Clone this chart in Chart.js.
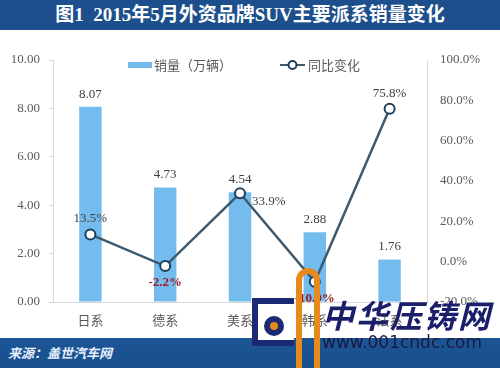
<!DOCTYPE html>
<html>
<head>
<meta charset="utf-8">
<script src="https://cdn.jsdelivr.net/npm/chart.js@4.4.1/dist/chart.umd.min.js"></script>
<style>
  body { margin: 0; width: 500px; height: 368px; overflow: hidden; background: #fff; position: relative; font-family: "Noto Sans CJK SC", sans-serif; }
  #title { position: absolute; left: 0; top: 0; width: 500px; height: 30px; background: #1d4f8c; color: #fff;
    font: bold 19px "Liberation Serif", "Noto Sans CJK SC", serif; line-height: 30px; text-align: center; }
  #wrap { position: absolute; left: 0; top: 30px; width: 500px; height: 308px; }
  #foot { position: absolute; left: 0; top: 338px; width: 500px; height: 30px; background: linear-gradient(#1c5595, #19508e);
    color: #e8f0ff; font: italic bold 13px "Noto Sans CJK SC", sans-serif; line-height: 30px; padding-left: 8px; box-sizing: border-box; }
  .wm { position: absolute; color: #1b1f6b; white-space: nowrap; }
  #logoA { position: absolute; left: 252px; top: 298px; width: 36px; height: 36px; border: 6px solid #1b2a72; border-right: none; background: #fff; }
  #logoA div { position: absolute; left: 6px; top: 12px; width: 20px; height: 20px; border-radius: 50%; background: #1b2a72; }
  #logoA span { position: absolute; left: 12px; top: 18px; width: 8px; height: 8px; border-radius: 50%; background: #e8891b; }
  #logoB { position: absolute; left: 296px; top: 268px; width: 12px; height: 100px; border: 6px solid #e8891b; border-bottom: none; border-radius: 12px 12px 0 0; }
</style>
</head>
<body>
<div id="title">图1&nbsp;&nbsp;2015年5月外资品牌SUV主要派系销量变化</div>
<div id="wrap"><canvas id="c" width="500" height="308"></canvas></div>
<div id="foot">来源：盖世汽车网</div>
<div id="logoA"><div></div><span></span></div>
<div id="logoB"></div>
<div class="wm" style="left:322px;top:291px;font:italic bold 32px 'Noto Sans CJK SC',sans-serif;letter-spacing:2px;">中华压铸网</div>
<div class="wm" style="left:322px;top:332px;font:17px 'DejaVu Sans',sans-serif;color:#1a1a40;">www.001cndc.com</div>
<script>
const categories = ["日系", "德系", "美系", "韩系", "法系"];
const sales = [8.07, 4.73, 4.54, 2.88, 1.76];
const yoy = [13.5, -2.2, 33.9, -10.0, 75.8];
const salesTicks = [0, 2, 4, 6, 8, 10];
const yoyTicks = [-20, 0, 20, 40, 60, 80, 100];

const serif = "'Liberation Serif', serif";
const cjk = "'Noto Sans CJK SC', sans-serif";

// value labels and legend drawn by hand, no datalabels plugin here
const labelPlugin = {
  id: "labels",
  afterDatasetsDraw(chart) {
    const ctx = chart.ctx;
    ctx.save();
    ctx.textAlign = "center";
    ctx.textBaseline = "bottom";
    ctx.font = "13px " + serif;
    ctx.fillStyle = "#404040";
    chart.getDatasetMeta(0).data.forEach((bar, i) => {
      ctx.fillText(sales[i].toFixed(2), bar.x, bar.y - 6);
    });
    chart.getDatasetMeta(1).data.forEach((pt, i) => {
      const v = yoy[i];
      const txt = v.toFixed(1) + "%";
      if (v < 0) {
        ctx.font = "bold 13px " + serif;
        ctx.fillStyle = "#9b1c25";
        ctx.textAlign = "center";
        ctx.textBaseline = "top";
        ctx.fillText(txt, pt.x, pt.y + 10);
      } else if (i === 2) {
        ctx.font = "13px " + serif;
        ctx.fillStyle = "#404040";
        ctx.textAlign = "left";
        ctx.textBaseline = "middle";
        ctx.fillText(txt, pt.x + 12, pt.y + 8);
      } else {
        ctx.font = "13px " + serif;
        ctx.fillStyle = "#404040";
        ctx.textAlign = "center";
        ctx.textBaseline = "bottom";
        ctx.fillText(txt, pt.x, pt.y - 9);
      }
    });

    // legend
    const ly = 35;
    ctx.fillStyle = "#74bcee";
    ctx.fillRect(128, ly - 3, 24, 6);
    ctx.font = "13px " + cjk;
    ctx.fillStyle = "#595959";
    ctx.textAlign = "left";
    ctx.textBaseline = "middle";
    ctx.fillText("销量（万辆）", 154, ly);
    ctx.strokeStyle = "#3f5a6e";
    ctx.lineWidth = 2;
    ctx.beginPath();
    ctx.moveTo(280, ly);
    ctx.lineTo(305, ly);
    ctx.stroke();
    ctx.beginPath();
    ctx.arc(292.5, ly, 4, 0, Math.PI * 2);
    ctx.fillStyle = "#fff";
    ctx.fill();
    ctx.strokeStyle = "#1f3f5c";
    ctx.stroke();
    ctx.fillStyle = "#595959";
    ctx.fillText("同比变化", 308, ly);
    ctx.restore();
  }
};

new Chart(document.getElementById("c").getContext("2d"), {
  data: {
    labels: categories,
    datasets: [
      {
        type: "bar",
        label: "销量（万辆）",
        data: sales,
        yAxisID: "y",
        backgroundColor: "#74bcee",
        barPercentage: 0.3,
        categoryPercentage: 1,
        order: 2
      },
      {
        type: "line",
        label: "同比变化",
        data: yoy,
        yAxisID: "y1",
        borderColor: "#3f5a6e",
        borderWidth: 2.5,
        pointRadius: 5,
        pointBorderWidth: 2,
        pointBackgroundColor: "#fff",
        pointBorderColor: "#1f3f5c",
        tension: 0,
        order: 1
      }
    ]
  },
  options: {
    responsive: false,
    animation: false,
    events: [],
    layout: { padding: { top: 30, left: 0, right: 0, bottom: 0 } },
    plugins: { legend: { display: false }, tooltip: { enabled: false } },
    scales: {
      x: {
        grid: { display: false, drawTicks: false },
        border: { color: "#d9d9d9" },
        ticks: { color: "#595959", font: { size: 13, family: cjk }, padding: 10 },
        afterFit(scale) { scale.height = 36; }
      },
      y: {
        position: "left",
        min: salesTicks[0],
        max: salesTicks[salesTicks.length - 1],
        afterBuildTicks(scale) { scale.ticks = salesTicks.map(v => ({ value: v })); },
        grid: { drawOnChartArea: false, tickLength: 4, color: "#d9d9d9" },
        border: { color: "#d9d9d9" },
        ticks: { color: "#595959", font: { size: 13, family: serif }, padding: 9,
          callback: v => v.toFixed(2) },
        afterFit(scale) { scale.width = 53; }
      },
      y1: {
        position: "right",
        min: yoyTicks[0],
        max: yoyTicks[yoyTicks.length - 1],
        afterBuildTicks(scale) { scale.ticks = yoyTicks.map(v => ({ value: v })); },
        grid: { drawOnChartArea: false, drawTicks: false },
        border: { color: "#d9d9d9" },
        ticks: { color: "#595959", font: { size: 13, family: serif }, padding: 13,
          callback: v => v.toFixed(1) + "%" },
        afterFit(scale) { scale.width = 73; }
      }
    }
  },
  plugins: [labelPlugin]
});
</script>
</body>
</html>
